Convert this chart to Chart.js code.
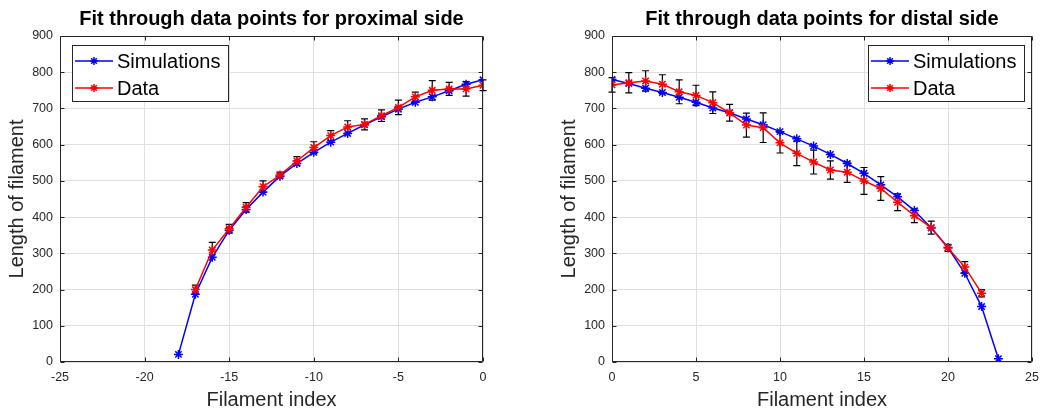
<!DOCTYPE html>
<html><head><meta charset="utf-8">
<script src="https://cdn.jsdelivr.net/npm/chart.js@4.4.1/dist/chart.umd.min.js"></script>
<style>
html,body{margin:0;padding:0;background:#fff;}
#wrap{position:relative;width:1045px;height:412px;overflow:hidden;}
#c1{position:absolute;left:0;top:0;}
#c2{position:absolute;left:520px;top:0;}
</style></head><body>
<div id="wrap">
<canvas id="c1" width="520" height="412"></canvas>
<canvas id="c2" width="525" height="412"></canvas>
</div>
<script>
// ---- Proximal side ----
const proxSimX = [-18,-17,-16,-15,-14,-13,-12,-11,-10,-9,-8,-7,-6,-5,-4,-3,-2,-1,0];
const proxSimY = [21,187,289,364,421,469,513,548,579,607,631,655,677,698,717,732,749,767,779];
const proxDataX = [-17,-16,-15,-14,-13,-12,-11,-10,-9,-8,-7,-6,-5,-4,-3,-2,-1,0];
const proxDataY = [200,309,368,427,484,516,555,592,625,649,656,680,703,732,750,754,754,764];
const proxErr   = [12,21,12,13,16,8,12,16,14,17,15,16,20,13,27,18,20,15];
// ---- Distal side ----
const distSimX = [0,1,2,3,4,5,6,7,8,9,10,11,12,13,14,15,16,17,18,19,20,21,22,23];
const distSimY = [780,769,756,744,731,717,701,688,671,655,636,616,596,573,548,521,489,456,418,370,316,245,153,9];
const distDataX = [0,1,2,3,4,5,6,7,8,9,10,11,12,13,14,15,16,17,18,19,20,21,22];
const distDataY = [765,771,776,767,746,736,716,688,654,647,605,576,552,530,524,500,479,441,404,371,315,262,190];
const distErr   = [20,28,28,26,33,28,30,23,33,41,28,34,33,25,28,37,33,23,19,18,10,15,10];

const seriesNames = ['Simulations','Data'];
const titles = ['Fit through data points for proximal side','Fit through data points for distal side'];
const xLabel = 'Filament index';
const yLabel = 'Length of filament';

const FONT = '"Liberation Sans", Arial, Helvetica, sans-serif';
const AX = '#262626';
const GRID = '#dfdfdf';

function pts(xs, ys){ return xs.map((x,i)=>({x:x, y:ys[i]})); }

function makePlugin(ex, ey, ee, legendSide){
  return {
    id:'custom_'+legendSide,
    beforeDatasetsDraw(chart){
      const ctx = chart.ctx, xs = chart.scales.x, ys = chart.scales.y;
      ctx.save();
      ctx.strokeStyle = '#000';
      ctx.lineWidth = 1.2;
      ctx.beginPath();
      for (let i=0;i<ex.length;i++){
        const px = xs.getPixelForValue(ex[i]);
        const t = ys.getPixelForValue(ey[i]+ee[i]);
        const b = ys.getPixelForValue(ey[i]-ee[i]);
        ctx.moveTo(px,t); ctx.lineTo(px,b);
        ctx.moveTo(px-3.5,t); ctx.lineTo(px+3.5,t);
        ctx.moveTo(px-3.5,b); ctx.lineTo(px+3.5,b);
      }
      ctx.stroke();
      ctx.restore();
    },
    afterDatasetsDraw(chart){
      const ctx = chart.ctx, a = chart.chartArea, xs = chart.scales.x, ys = chart.scales.y;
      ctx.save();
      ctx.strokeStyle = AX; ctx.lineWidth = 1;
      const L = Math.round(a.left)+0.5, R = Math.round(a.right)-0.5, T = Math.round(a.top)+0.5, B = Math.round(a.bottom)-0.5;
      ctx.beginPath();
      ctx.rect(L, T, R-L, B-T);
      xs.ticks.forEach(tk=>{
        const p = Math.round(xs.getPixelForValue(tk.value))+0.5;
        ctx.moveTo(p,B); ctx.lineTo(p,B-4);
        ctx.moveTo(p,T); ctx.lineTo(p,T+4);
      });
      ys.ticks.forEach(tk=>{
        const p = Math.round(ys.getPixelForValue(tk.value))+0.5;
        ctx.moveTo(L,p); ctx.lineTo(L+4,p);
        ctx.moveTo(R,p); ctx.lineTo(R-4,p);
      });
      ctx.stroke();
      // legend
      const w = 156, h = 56;
      const bx = legendSide==='left' ? Math.round(a.left)+12 : Math.round(a.right)-8-w;
      const by = Math.round(a.top)+9;
      ctx.fillStyle = '#fff';
      ctx.fillRect(bx+0.5, by+0.5, w, h);
      ctx.strokeStyle = AX;
      ctx.strokeRect(bx+0.5, by+0.5, w, h);
      const dsets = chart.data.datasets;
      [0,1].forEach((di,row)=>{
        const ds = dsets.find(d=>d.label===seriesNames[di]);
        const cy = by + 16 + row*27;
        ctx.strokeStyle = ds.borderColor; ctx.lineWidth = 1.5;
        ctx.beginPath(); ctx.moveTo(bx+3, cy); ctx.lineTo(bx+41, cy); ctx.stroke();
        Chart.helpers.drawPoint(ctx, {pointStyle:'star', radius:4, borderWidth:1.5}, bx+22, cy);
        ctx.fillStyle = '#000';
        ctx.font = '20px ' + FONT;
        ctx.textBaseline = 'middle';
        ctx.textAlign = 'left';
        ctx.fillText(ds.label, bx+45, cy+1);
      });
      ctx.restore();
    }
  };
}

function buildChart(id, title, simX, simY, dataX, dataY, err, xmin, xmax, yAxisWidth, yTitlePad, padRight, legendSide){
  return new Chart(document.getElementById(id), {
    type:'line',
    data:{
      datasets:[
        {label:seriesNames[0], data:pts(simX,simY), borderColor:'#0000ff', backgroundColor:'#0000ff',
         borderWidth:1.5, pointStyle:'star', pointRadius:4.5, pointBorderWidth:1.5, pointBorderColor:'#0000ff', order:1, tension:0},
        {label:seriesNames[1], data:pts(dataX,dataY), borderColor:'#ff0000', backgroundColor:'#ff0000',
         borderWidth:1.5, pointStyle:'star', pointRadius:4.5, pointBorderWidth:1.5, pointBorderColor:'#ff0000', order:0, tension:0}
      ]
    },
    options:{
      responsive:false, animation:false, devicePixelRatio:1,
      layout:{padding:{left:0, right:padRight, top:0, bottom:0}},
      plugins:{
        legend:{display:false},
        tooltip:{enabled:false},
        title:{display:true, text:title, fullSize:false, color:'#000',
               font:{family:FONT, size:20, weight:'bold'}, padding:{top:7.6, bottom:4.4}}
      },
      scales:{
        x:{type:'linear', min:xmin, max:xmax,
           ticks:{stepSize:5, color:AX, font:{family:FONT, size:12.5}, padding:8, maxRotation:0, autoSkip:false},
           grid:{color:GRID, drawTicks:false, lineWidth:1},
           border:{display:false},
           title:{display:true, text:xLabel, color:AX, font:{family:FONT, size:20}, padding:{top:0, bottom:0}},
           afterFit(s){ s.height = 50; s.paddingLeft = 0; s.paddingRight = 0; }
        },
        y:{type:'linear', min:0, max:900,
           ticks:{stepSize:100, color:AX, font:{family:FONT, size:12.5}, padding:7},
           grid:{color:GRID, drawTicks:false, lineWidth:1},
           border:{display:false},
           title:{display:true, text:yLabel, color:AX, font:{family:FONT, size:20}, padding:{top:yTitlePad, bottom:0}},
           afterFit(s){ s.width = yAxisWidth; s.paddingTop = 0; s.paddingBottom = 0; }
        }
      }
    },
    plugins:[makePlugin(dataX, dataY, err, legendSide)]
  });
}

buildChart('c1', titles[0], proxSimX, proxSimY, proxDataX, proxDataY, proxErr, -25, 0, 60, 5, 37, 'left');
buildChart('c2', titles[1], distSimX, distSimY, distDataX, distDataY, distErr, 0, 25, 92, 37, 13, 'right');
</script>
</body></html>
